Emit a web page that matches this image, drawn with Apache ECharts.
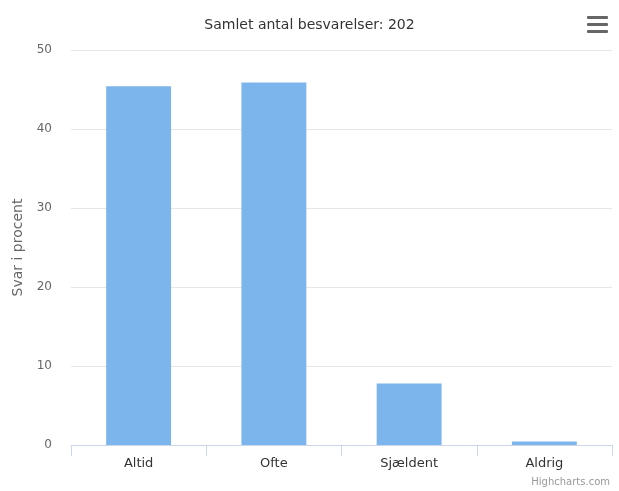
<!DOCTYPE html>
<html>
<head>
<meta charset="utf-8">
<script src="https://cdn.jsdelivr.net/npm/echarts@6/dist/echarts.min.js"></script>
<style>
html,body{margin:0;padding:0;background:#fff;}
#chart{width:619px;height:491px;}
</style>
</head>
<body>
<div id="chart"></div>
<script>
const titleText = "Samlet antal besvarelser: 202";
const categories = ["Altid", "Ofte", "Sjældent", "Aldrig"];
const values = [45.4, 45.9, 7.8, 0.45];
const yTitle = "Svar i procent";
const yMin = 0, yMax = 50, yInterval = 10;

const FONT = "'DejaVu Sans', Verdana, sans-serif";
const chart = echarts.init(document.getElementById('chart'), null, {renderer: 'canvas'});
chart.setOption({
  animation: false,
  backgroundColor: '#ffffff',
  title: {
    text: titleText,
    left: 'center',
    top: 13,
    textStyle: {color: '#333333', fontSize: 14, fontWeight: 'normal', fontFamily: FONT}
  },
  grid: {left: 71, right: 7, top: 50, bottom: 46, containLabel: false},
  xAxis: {
    type: 'category',
    data: categories,
    axisLine: {lineStyle: {color: '#ccd6eb', width: 1}},
    axisTick: {show: true, alignWithLabel: false, length: 11, lineStyle: {color: '#ccd6eb'}},
    axisLabel: {color: '#333333', fontSize: 13, fontFamily: FONT, margin: 12},
    splitLine: {show: false}
  },
  yAxis: {
    type: 'value',
    min: yMin, max: yMax, interval: yInterval,
    name: yTitle,
    nameLocation: 'middle',
    nameGap: 46,
    nameTextStyle: {color: '#666666', fontSize: 14, fontFamily: FONT},
    axisLine: {show: false},
    axisTick: {show: false},
    axisLabel: {color: '#666666', fontSize: 12, fontFamily: FONT, margin: 19},
    splitLine: {lineStyle: {color: '#e6e6e6', width: 1}}
  },
  series: [{
    type: 'bar',
    data: values,
    barWidth: '48%',
    itemStyle: {color: '#7cb5ec', borderWidth: 0}
  }],
  graphic: [
    {type: 'rect', shape: {x: 587, y: 16, width: 21, height: 3, r: 1}, style: {fill: '#666666'}},
    {type: 'rect', shape: {x: 587, y: 23, width: 21, height: 3, r: 1}, style: {fill: '#666666'}},
    {type: 'rect', shape: {x: 587, y: 30, width: 21, height: 3, r: 1}, style: {fill: '#666666'}},
    {type: 'text', right: 9, top: 477, style: {text: 'Highcharts.com', fill: '#999999', fontSize: 10, fontFamily: FONT}}
  ]
});
</script>
</body>
</html>
